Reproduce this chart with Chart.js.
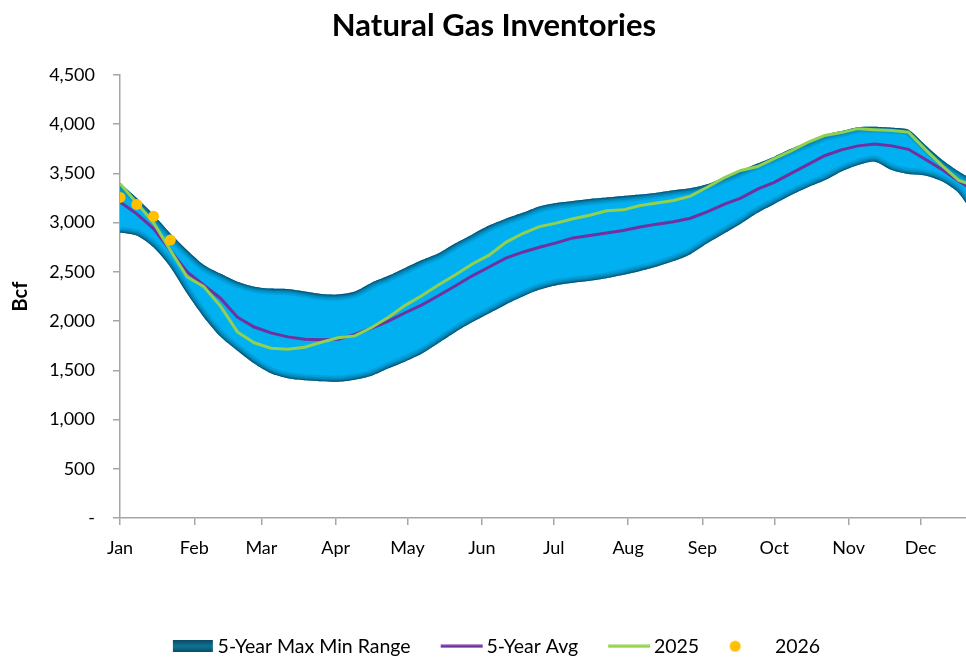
<!DOCTYPE html>
<html>
<head>
<meta charset="utf-8">
<title>Natural Gas Inventories</title>
<script src="https://cdn.jsdelivr.net/npm/chart.js@4.4.1/dist/chart.umd.min.js"></script>
<style>
  html, body { margin: 0; padding: 0; background: #fff; overflow: hidden; }
</style>
</head>
<body>
<canvas id="gasChart" width="966" height="657"></canvas>
<script>
// week positions (day of year) and month ticks
const weekDay = [0, 7, 14, 21, 28, 35, 42, 49, 56, 63, 70, 77, 84, 91, 98, 105, 112, 119, 126, 133,
  140, 147, 154, 161, 168, 175, 182, 189, 196, 203, 210, 217, 224, 231, 238, 245, 252, 259, 266, 273,
  280, 287, 294, 301, 308, 315, 322, 329, 336, 343, 350, 357];
const monthStart = [0, 31, 59, 90, 120, 151, 181, 212, 243, 273, 304, 334];
const monthNames = ['Jan', 'Feb', 'Mar', 'Apr', 'May', 'Jun', 'Jul', 'Aug', 'Sep', 'Oct', 'Nov', 'Dec'];
const yTicks = [0, 500, 1000, 1500, 2000, 2500, 3000, 3500, 4000, 4500];

// Bcf, weekly
const max5 = [3400, 3250, 3080, 2890, 2720, 2570, 2480, 2400, 2350, 2330, 2325, 2300, 2275, 2270, 2300, 2390,
  2460, 2540, 2620, 2690, 2790, 2880, 2970, 3040, 3100, 3165, 3200, 3220, 3240, 3255, 3270, 3285, 3305, 3330,
  3350, 3390, 3460, 3530, 3600, 3670, 3750, 3820, 3890, 3930, 3970, 3975, 3965, 3945, 3790, 3640, 3520, 3420];
const min5 = [2900, 2870, 2750, 2550, 2280, 2040, 1840, 1700, 1570, 1470, 1420, 1400, 1390, 1385, 1405, 1445,
  1520, 1590, 1670, 1780, 1890, 1990, 2080, 2170, 2250, 2320, 2365, 2390, 2410, 2435, 2470, 2510, 2555, 2610,
  2680, 2790, 2890, 2990, 3100, 3190, 3280, 3360, 3430, 3520, 3585, 3620, 3535, 3495, 3480, 3420, 3300, 3050];
const avg5 = [3210, 3090, 2940, 2720, 2500, 2365, 2230, 2040, 1940, 1880, 1840, 1815, 1810, 1815, 1865, 1930,
  2000, 2085, 2165, 2260, 2360, 2460, 2550, 2640, 2700, 2750, 2795, 2845, 2870, 2895, 2920, 2955, 2985, 3010,
  3045, 3110, 3185, 3250, 3340, 3410, 3500, 3590, 3680, 3740, 3780, 3800, 3780, 3745, 3645, 3540, 3420, 3320];
const y2025 = [3395, 3200, 3000, 2720, 2450, 2350, 2150, 1890, 1780, 1725, 1715, 1735, 1785, 1830, 1850, 1935,
  2040, 2160, 2260, 2370, 2470, 2580, 2670, 2800, 2890, 2960, 2995, 3040, 3075, 3120, 3130, 3175, 3200, 3225,
  3270, 3360, 3455, 3530, 3570, 3650, 3730, 3815, 3885, 3915, 3955, 3945, 3935, 3920, 3745, 3580, 3430, 3370];
const y2026 = [3256, 3185, 3065, 2823];

const BLUE = '#00B0F0', PURPLE = '#7030A0', GREEN = '#92D050', GOLD = '#FFC000', AXIS = '#A6A6A6';

function pts(vals) {
  return vals.map((v, i) => ({ x: weekDay[i], y: v }));
}

// small canvases used as legend symbols (drawn centred on a 40px slot)
function swatch(w, h, draw) {
  const c = document.createElement('canvas');
  c.width = w; c.height = h;
  draw(c.getContext('2d'));
  return c;
}
const rangeSwatch = swatch(60, 12, g => {
  const grad = g.createLinearGradient(0, 0, 0, 12);
  grad.addColorStop(0, '#0a4a64');
  grad.addColorStop(0.5, '#0f7499');
  grad.addColorStop(1, '#0a4a64');
  g.fillStyle = grad;
  g.fillRect(15, 0, 40, 12);
});
const lineSwatch = col => swatch(60, 4, g => { g.fillStyle = col; g.fillRect(14, 0.5, 42, 3); });
const dotSwatch = swatch(60, 12, g => {
  g.fillStyle = GOLD; g.beginPath(); g.arc(20, 6, 5.5, 0, Math.PI * 2); g.fill();
});
const swatches = { 0: dotSwatch, 1: lineSwatch(GREEN), 2: lineSwatch(PURPLE), 3: rangeSwatch };
const legendOrder = [3, 2, 1, 0];

// walk the point elements of a line (with its bezier control points)
function trace(ctx, list, reverse, start) {
  const p = reverse ? list.slice().reverse() : list;
  p.forEach((pt, i) => {
    if (i === 0) {
      if (start) ctx.moveTo(pt.x, pt.y); else ctx.lineTo(pt.x, pt.y);
      return;
    }
    const q = p[i - 1];
    if (q.cp2x === undefined) { ctx.lineTo(pt.x, pt.y); return; }
    if (!reverse) ctx.bezierCurveTo(q.cp2x, q.cp2y, pt.cp1x, pt.cp1y, pt.x, pt.y);
    else ctx.bezierCurveTo(q.cp1x, q.cp1y, pt.cp2x, pt.cp2y, pt.x, pt.y);
  });
}

// darker shading on the inside of the range band edges
const bandEdge = {
  id: 'bandEdge',
  afterDatasetDraw(chart, args) {
    if (args.index !== 3) return;
    const top = chart.getDatasetMeta(3).data;
    const bot = chart.getDatasetMeta(4).data;
    const ctx = chart.ctx, area = chart.chartArea;
    ctx.save();
    ctx.beginPath();
    ctx.rect(area.left, area.top, area.right - area.left, area.bottom - area.top);
    ctx.clip();
    ctx.beginPath();
    trace(ctx, top, false, true);
    trace(ctx, bot, true, false);
    ctx.closePath();
    ctx.clip();
    [[12, 0.14], [8, 0.2], [4.5, 0.32], [1.8, 0.55]].forEach(([w, al]) => {
      ctx.lineWidth = w;
      ctx.strokeStyle = 'rgba(8,62,88,' + al + ')';
      ctx.beginPath(); trace(ctx, top, false, true); ctx.stroke();
      ctx.beginPath(); trace(ctx, bot, false, true); ctx.stroke();
    });
    ctx.restore();
  }
};

Chart.defaults.font.family = 'Lato, "Open Sans", sans-serif';
Chart.defaults.color = '#000';

new Chart(document.getElementById('gasChart'), {
  type: 'line',
  data: {
    datasets: [
      { label: '2026', data: pts(y2026), showLine: false, pointRadius: 5.5, pointHoverRadius: 5.5,
        backgroundColor: GOLD, borderColor: GOLD, pointBorderWidth: 0 },
      { label: '2025', data: pts(y2025), borderColor: GREEN, backgroundColor: GREEN, borderWidth: 3,
        pointRadius: 0, tension: 0, fill: false },
      { label: '5-Year Avg', data: pts(avg5), borderColor: PURPLE, backgroundColor: PURPLE, borderWidth: 3,
        pointRadius: 0, tension: 0, fill: false },
      { label: '5-Year Max Min Range', data: pts(max5), borderWidth: 0, borderColor: 'rgba(0,0,0,0)',
        backgroundColor: BLUE, fill: '+1', pointRadius: 0, tension: 0.25 },
      { label: '5-Year Min', data: pts(min5), borderWidth: 0, borderColor: 'rgba(0,0,0,0)',
        backgroundColor: BLUE, fill: false, pointRadius: 0, tension: 0.25 }
    ]
  },
  options: {
    responsive: false,
    animation: false,
    devicePixelRatio: 1,
    events: [],
    layout: { autoPadding: false, padding: { left: 22, right: 0, top: 0, bottom: -9 } },
    scales: {
      x: {
        type: 'linear',
        min: 0,
        max: 353,
        afterBuildTicks: axis => { axis.ticks = monthStart.map(v => ({ value: v })); },
        afterFit: s => { s.height = 92.5; },
        ticks: {
          autoSkip: false,
          maxRotation: 0,
          padding: 12,
          font: { size: 18 },
          callback: v => monthNames[monthStart.indexOf(v)]
        },
        grid: { drawOnChartArea: false, drawTicks: true, tickLength: 7, color: AXIS, lineWidth: 1.5 },
        border: { display: true, color: AXIS, width: 1.5 }
      },
      y: {
        min: 0,
        max: 4500,
        afterBuildTicks: axis => { axis.ticks = yTicks.map(v => ({ value: v })); },
        afterFit: s => { s.width = 98; },
        ticks: {
          padding: 18,
          font: { size: 18 },
          callback: v => v === 0 ? '-' : v.toLocaleString('en-US')
        },
        grid: { drawOnChartArea: false, drawTicks: true, tickLength: 7, color: AXIS, lineWidth: 1.5 },
        border: { display: true, color: AXIS, width: 1.5 },
        title: {
          display: true,
          text: 'Bcf',
          font: { size: 20, weight: 'bold' },
          padding: { top: -13, bottom: 0 }
        }
      }
    },
    plugins: {
      title: {
        display: true,
        text: 'Natural Gas Inventories',
        font: { size: 31, weight: 'bold' },
        padding: { top: 7, bottom: 30.8 }
      },
      legend: {
        position: 'bottom',
        labels: {
          usePointStyle: true,
          pointStyleWidth: 40,
          padding: 26,
          font: { size: 19.5 },
          generateLabels: chart => {
            const base = Chart.defaults.plugins.legend.labels.generateLabels(chart);
            return legendOrder.map(i => {
              const item = base.find(b => b.datasetIndex === i);
              item.pointStyle = swatches[i];
              return item;
            });
          }
        }
      },
      tooltip: { enabled: false }
    }
  },
  plugins: [bandEdge]
});
</script>
</body>
</html>
